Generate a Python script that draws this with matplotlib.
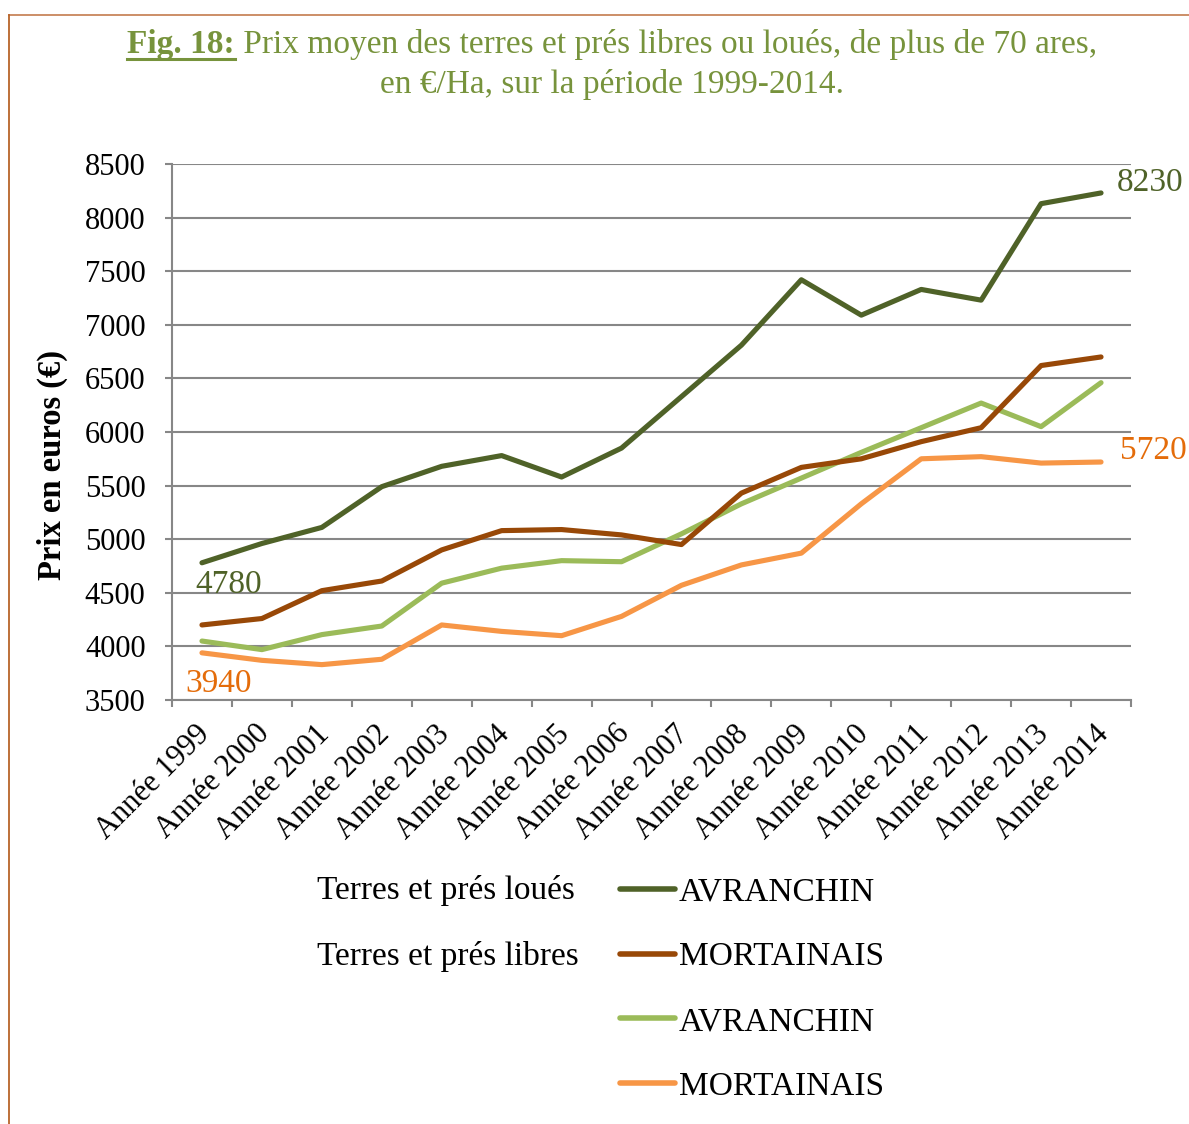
import matplotlib
matplotlib.use("Agg")
import matplotlib.pyplot as plt
from matplotlib.lines import Line2D
import matplotlib.transforms as mtransforms
import numpy as np

plt.rcParams['font.family'] = ['Liberation Serif', 'DejaVu Serif']

years = [str(y) for y in range(1999, 2015)]
categories = ["Année " + y for y in years]

loues_avranchin = [4780, 4960, 5110, 5490, 5680, 5780, 5580, 5850, 6330, 6810,
                   7420, 7090, 7330, 7230, 8130, 8230]
loues_mortainais = [4200, 4260, 4520, 4610, 4900, 5080, 5090, 5040, 4950, 5430,
                    5670, 5750, 5910, 6040, 6620, 6700]
libres_avranchin = [4050, 3970, 4110, 4190, 4590, 4730, 4800, 4790, 5050, 5330,
                    5570, 5810, 6040, 6270, 6050, 6460]
libres_mortainais = [3940, 3870, 3830, 3880, 4200, 4140, 4100, 4280, 4570, 4760,
                     4870, 5330, 5750, 5770, 5710, 5720]

series_labels = ["AVRANCHIN", "MORTAINAIS", "AVRANCHIN", "MORTAINAIS"]
group_labels = ["Terres et prés loués", "Terres et prés libres"]
yticks = [3500, 4000, 4500, 5000, 5500, 6000, 6500, 7000, 7500, 8000, 8500]

c_dkgreen = "#4F6228"
c_brown = "#984807"
c_ltgreen = "#9BBB59"
c_orange = "#F79646"
c_lbl_orange = "#E46C0A"
c_title = "#77933C"
c_grid = "#878787"

W, H = 1189, 1124
fig = plt.figure(figsize=(W / 100, H / 100), dpi=100)
fig.patch.set_facecolor("white")

ax = fig.add_axes([172 / W, 1 - 700 / H, (1131 - 172) / W, (700 - 164) / H])
x = np.arange(len(categories))
lw = 3.7
kw = dict(lw=lw, solid_capstyle='round', solid_joinstyle='round')
l1, = ax.plot(x, loues_avranchin, color=c_dkgreen, zorder=5, **kw)
l2, = ax.plot(x, loues_mortainais, color=c_brown, zorder=4, **kw)
l3, = ax.plot(x, libres_avranchin, color=c_ltgreen, zorder=3, **kw)
l4, = ax.plot(x, libres_mortainais, color=c_orange, zorder=2, **kw)

ax.set_xlim(-0.5, len(categories) - 0.5)
ax.set_ylim(yticks[0], yticks[-1])
ax.set_yticks(yticks)
ax.set_yticklabels([str(v) for v in yticks], fontsize=22)
ax.yaxis.grid(True, color=c_grid, lw=1.5)
ax.set_axisbelow(True)
for s in ["top", "right"]:
    ax.spines[s].set_visible(False)
for s in ["left", "bottom"]:
    ax.spines[s].set_color(c_grid)
    ax.spines[s].set_linewidth(1.5)
ax.tick_params(axis='y', length=5, width=1.5, color=c_grid, pad=14)

ax.set_xticks(np.arange(-0.5, len(categories), 1.0), minor=True)
ax.set_xticks(x)
ax.set_xticklabels(categories, rotation=45, ha='right', va='top',
                   rotation_mode='anchor', fontsize=22)
ax.tick_params(axis='x', which='major', length=0, pad=14)
ax.tick_params(axis='x', which='minor', length=5, width=1.5, color=c_grid)
shift = mtransforms.ScaledTranslation(-7 / 100, 0, fig.dpi_scale_trans)
for lab in ax.get_xticklabels():
    lab.set_transform(lab.get_transform() + shift)

fig.text(52 / W, 1 - 465 / H, "Prix en euros (€)", fontsize=23.5, fontweight='bold',
         rotation=90, ha='center', va='center')

# data labels
ax.annotate(str(loues_avranchin[0]), (x[0], loues_avranchin[0]), xytext=(-5, -5),
            textcoords='offset points', color=c_dkgreen, fontsize=24, ha='left', va='top')
ax.annotate(str(libres_mortainais[0]), (x[0], libres_mortainais[0]), xytext=(-12, -11),
            textcoords='offset points', color=c_lbl_orange, fontsize=24, ha='left', va='top')
ax.annotate(str(loues_avranchin[-1]), (x[-1], loues_avranchin[-1]), xytext=(11, 7),
            textcoords='offset points', color=c_dkgreen, fontsize=24, ha='left', va='center')
ax.annotate(str(libres_mortainais[-1]), (x[-1], libres_mortainais[-1]), xytext=(14, 8),
            textcoords='offset points', color=c_lbl_orange, fontsize=24, ha='left', va='center')

# legend
leg = fig.legend([l1, l2, l3, l4], series_labels, loc='upper left',
                 bbox_to_anchor=(620 / W, 1 - 877 / H), frameon=False,
                 fontsize=24, handlelength=1.65, handletextpad=0.12,
                 labelspacing=1.03, borderpad=0, borderaxespad=0)
for h in leg.legend_handles:
    h.set_linewidth(4)
    h.set_solid_capstyle('round')

fig.text(317 / W, 1 - 891 / H, group_labels[0], fontsize=24, ha='left', va='center')
fig.text(317 / W, 1 - 956 / H, group_labels[1], fontsize=24, ha='left', va='center')

# title
renderer = fig.canvas.get_renderer()
t_bold = fig.text(0, 1 - 45 / H, "Fig. 18:", fontsize=24, fontweight='bold',
                  color=c_title, ha='left', va='center')
t_rest = fig.text(0, 1 - 45 / H, " Prix moyen des terres et prés libres ou loués, de plus de 70 ares,",
                  fontsize=24, color=c_title, ha='left', va='center')
wb = t_bold.get_window_extent(renderer).width
wr = t_rest.get_window_extent(renderer).width
cx = 612
x0 = cx - (wb + wr) / 2
t_bold.set_x(x0 / W)
t_rest.set_x((x0 + wb) / W)
fig.add_artist(Line2D([x0 / W, (x0 + wb) / W], [1 - 59 / H, 1 - 59 / H],
                      color=c_title, lw=2.2, transform=fig.transFigure))
fig.text(cx / W, 1 - 84 / H, "en €/Ha, sur la période 1999-2014.", fontsize=24,
         color=c_title, ha='center', va='center')

# frame border
fig.add_artist(Line2D([9 / W, 1.0], [1 - 15 / H, 1 - 15 / H], color="#C8865C",
                      lw=1.3, transform=fig.transFigure))
fig.add_artist(Line2D([9 / W, 9 / W], [1 - 15 / H, 0], color="#B8642A",
                      lw=1.3, transform=fig.transFigure))

fig.savefig("out.png", dpi=100, facecolor="white")
